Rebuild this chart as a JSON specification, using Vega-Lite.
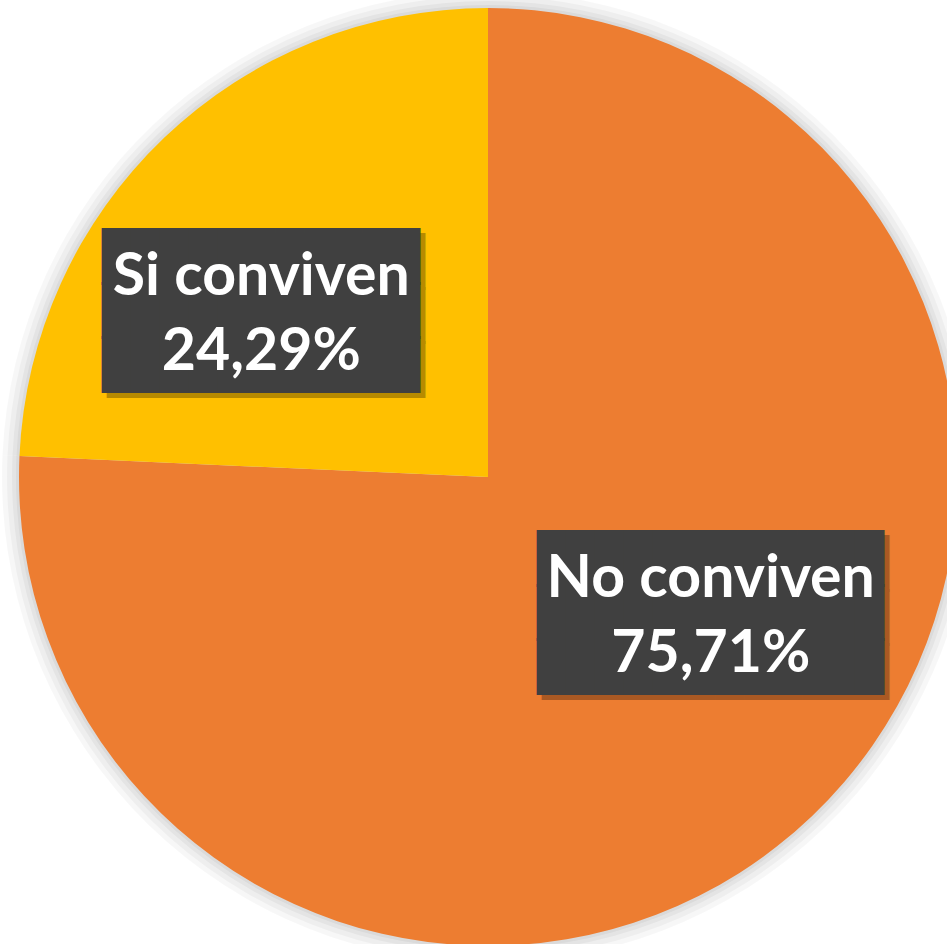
{
  "$schema": "https://vega.github.io/schema/vega-lite/v6.json",
  "width": 976,
  "height": 954,
  "padding": 0,
  "autosize": {"type": "none"},
  "background": "white",
  "view": {"stroke": null},
  "data": {"values": [
    {"cat": "No conviven", "value": 75.71},
    {"cat": "Si conviven", "value": 24.29}
  ]},
  "transform": [
    {"calculate": "datum.cat + '\\n' + replace(format(datum.value, '.2f'), '.', ',') + '%'", "as": "label"},
    {"calculate": "pad('', datum.cat == 'Si conviven' ? 11 : 12, '\u2588')", "as": "b"},
    {"calculate": "datum.b + '\\n' + datum.b + '\\n' + datum.b", "as": "box"}
  ],
  "layer": [
    {"mark": {"type": "arc", "radius": 486, "color": "#000000", "opacity": 0.03},
     "encoding": {"theta": {"field": "value", "type": "quantitative", "stack": true}, "detail": {"field": "cat"}}},
    {"mark": {"type": "arc", "radius": 481, "color": "#000000", "opacity": 0.035},
     "encoding": {"theta": {"field": "value", "type": "quantitative", "stack": true}, "detail": {"field": "cat"}}},
    {"mark": {"type": "arc", "radius": 476, "color": "#000000", "opacity": 0.04},
     "encoding": {"theta": {"field": "value", "type": "quantitative", "stack": true}, "detail": {"field": "cat"}}},
    {"mark": {"type": "arc", "radius": 472, "color": "#000000", "opacity": 0.045},
     "encoding": {"theta": {"field": "value", "type": "quantitative", "stack": true}, "detail": {"field": "cat"}}},
    {"mark": {"type": "arc", "radius": 469},
     "encoding": {
       "theta": {"field": "value", "type": "quantitative", "stack": true},
       "color": {"field": "cat", "type": "nominal", "legend": null,
                 "scale": {"domain": ["No conviven", "Si conviven"], "range": ["#ED7D31", "#FFC000"]}}
     }},
    {"mark": {"type": "text", "font": "DejaVu Sans Mono", "fontSize": 48, "lineHeight": 54, "lineBreak": "\n",
              "align": "center", "baseline": "middle", "color": "#000000", "opacity": 0.28, "dx": 5, "dy": -47},
     "encoding": {
       "theta": {"field": "value", "type": "quantitative", "stack": true, "scale": {"domain": [0, 100], "range": [-0.3229, 6.128]}},
       "radius": {"field": "value", "type": "quantitative", "scale": {"type": "linear", "zero": false, "domain": [24.29, 75.71], "range": [281, 261]}},
       "order": {"field": "value", "type": "quantitative", "sort": "descending"},
       "text": {"field": "box"}
     }},
    {"mark": {"type": "text", "font": "DejaVu Sans Mono", "fontSize": 48, "lineHeight": 54, "lineBreak": "\n",
              "align": "center", "baseline": "middle", "color": "#404040", "dy": -52},
     "encoding": {
       "theta": {"field": "value", "type": "quantitative", "stack": true, "scale": {"domain": [0, 100], "range": [-0.3229, 6.128]}},
       "radius": {"field": "value", "type": "quantitative", "scale": {"type": "linear", "zero": false, "domain": [24.29, 75.71], "range": [281, 261]}},
       "order": {"field": "value", "type": "quantitative", "sort": "descending"},
       "text": {"field": "box"}
     }},
    {"mark": {"type": "text", "font": "Lato", "fontWeight": "bold", "fontSize": 59, "lineHeight": 75, "lineBreak": "\n",
              "align": "center", "baseline": "middle", "color": "#FFFFFF", "dy": -34},
     "encoding": {
       "theta": {"field": "value", "type": "quantitative", "stack": true, "scale": {"domain": [0, 100], "range": [-0.3229, 6.128]}},
       "radius": {"field": "value", "type": "quantitative", "scale": {"type": "linear", "zero": false, "domain": [24.29, 75.71], "range": [281, 261]}},
       "order": {"field": "value", "type": "quantitative", "sort": "descending"},
       "text": {"field": "label"}
     }}
  ],
  "resolve": {"scale": {"theta": "independent", "radius": "independent", "color": "independent"}}
}
